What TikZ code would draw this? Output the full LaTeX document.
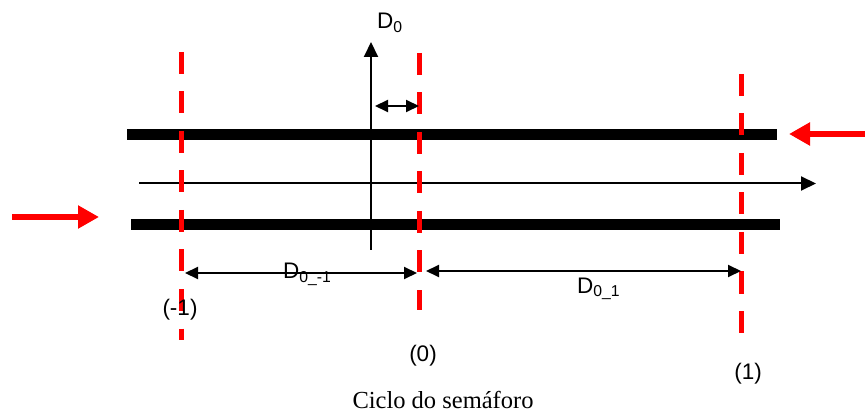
\documentclass[tikz,border=0pt]{standalone}
\usepackage{fontspec}
\setmainfont{Liberation Sans}
\newfontfamily\capfont{Liberation Serif}
\usetikzlibrary{arrows.meta}
\tikzset{
  bar/.style={line width=10.5pt, black},
  reddash/.style={red, line width=5pt, dash pattern=on 22pt off 17.5pt},
  axisarrow/.style={line width=2pt, -{Triangle[length=15pt,width=14pt]}},
  dimarrow/.style={line width=2pt, {Triangle[length=13pt,width=12pt]}-{Triangle[length=13pt,width=12pt]}},
  redarrow/.style={red, line width=6pt, -{Triangle[length=21pt,width=22pt]}},
  lbl/.style={inner sep=0pt, font=\fontsize{22.5}{27}\selectfont},
}
\begin{document}
\begin{tikzpicture}[x=1pt,y=-1pt]
\useasboundingbox (0,0) rectangle (865,414);
% coordinates
\coordinate (tbL) at (127,134.5);
\coordinate (tbR) at (777,134.5);
\coordinate (bbL) at (131,224.5);
\coordinate (bbR) at (780,224.5);
\coordinate (mS) at (139,183.5);
\coordinate (mE) at (816,183.5);
\coordinate (laS) at (12,217);
\coordinate (laE) at (99,217);
\coordinate (raS) at (865,134);
\coordinate (raE) at (789,134);
\coordinate (r1T) at (181,52);
\coordinate (r1B) at (181,340);
\coordinate (r2T) at (419,53);
\coordinate (r2B) at (419,310);
\coordinate (r3T) at (741,74);
\coordinate (r3B) at (741,333);
\coordinate (axB) at (371,250);
\coordinate (axT) at (371,42);
\coordinate (sdL) at (375,106);
\coordinate (sdR) at (419,106);
\coordinate (d1L) at (185,273);
\coordinate (d1R) at (417,273);
\coordinate (d2L) at (426,271);
\coordinate (d2R) at (741,271);
% bars
\draw[bar] (tbL) -- (tbR);
\draw[bar] (bbL) -- (bbR);
% middle arrow
\draw[axisarrow] (mS) -- (mE);
% red arrows
\draw[redarrow] (laS) -- (laE);
\draw[redarrow] (raS) -- (raE);
% axis
\draw[axisarrow] (axB) -- (axT);
% dashed lines
\draw[reddash] (r1T) -- (r1B);
\draw[reddash] (r2T) -- (r2B);
\draw[reddash] (r3T) -- (r3B);
% dimension arrows
\draw[dimarrow] (sdL) -- (sdR);
\draw[dimarrow] (d1L) -- (d1R);
\draw[dimarrow] (d2L) -- (d2R);
% labels
\node[lbl, anchor=base west] (lD0) at (377,29) {D\textsubscript{0}};
\node[lbl, anchor=base west] (lD01m) at (283,279) {D\textsubscript{0\_-1}};
\node[lbl, anchor=base west] (lD01) at (577,293) {D\textsubscript{0\_1}};
\node[lbl] (lm1) at (180,310) {(-1)};
\node[lbl] (l0) at (423,356) {(0)};
\node[lbl] (l1) at (748,374) {(1)};
\node[inner sep=0pt, font=\capfont\fontsize{24.5}{29}\selectfont] (cap) at (443,400) {Ciclo do semáforo};
\end{tikzpicture}
\end{document}
